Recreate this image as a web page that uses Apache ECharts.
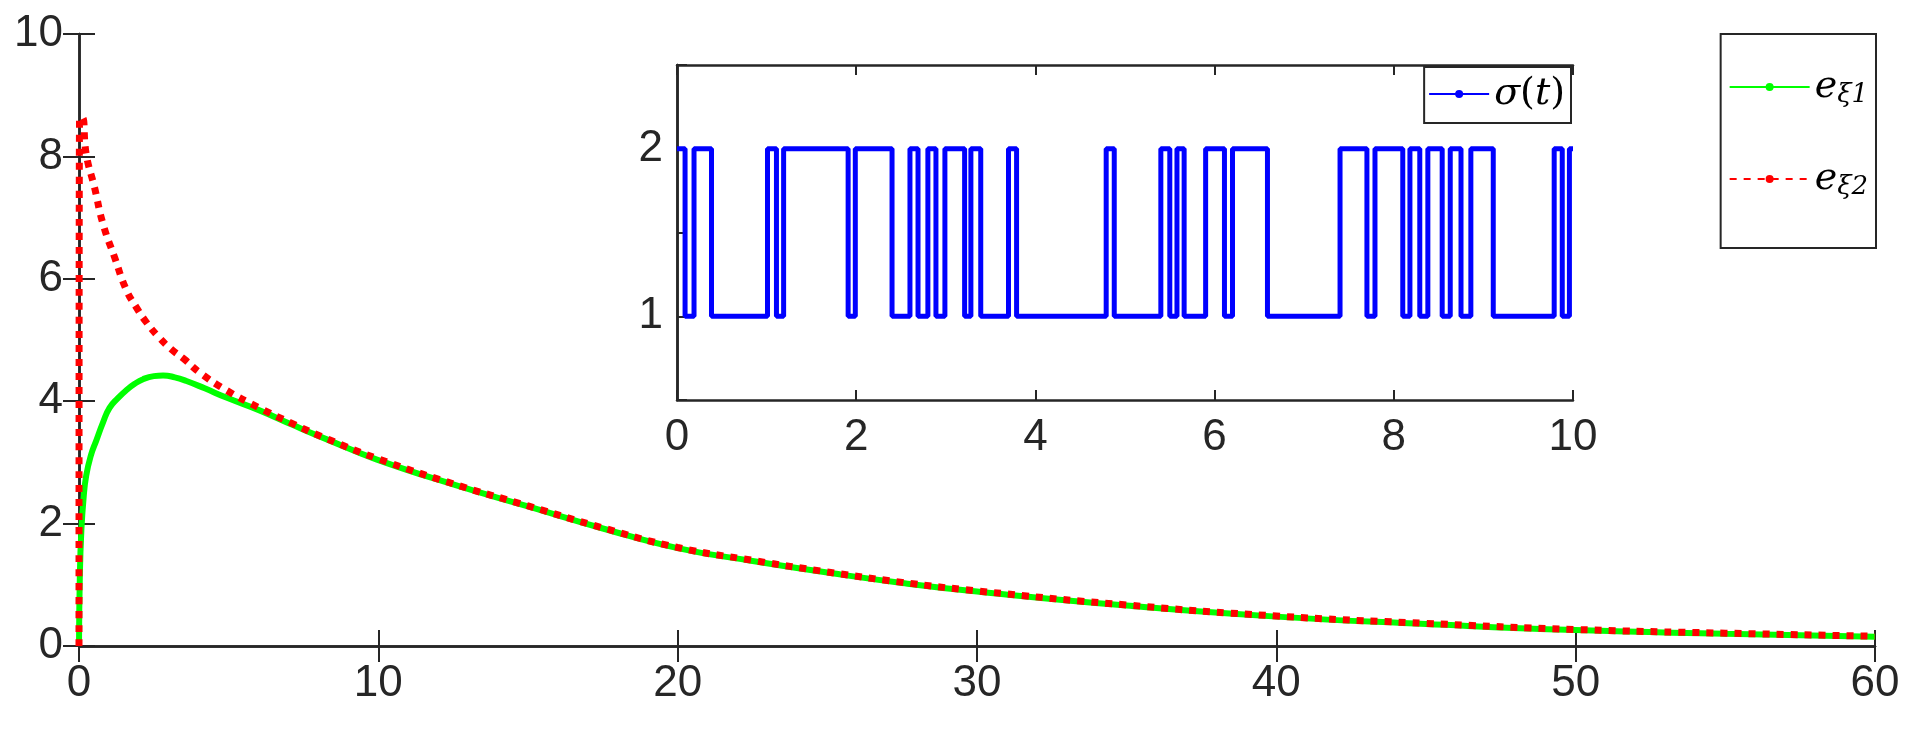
<!DOCTYPE html>
<html><head><meta charset="utf-8">
<script src="https://cdn.jsdelivr.net/npm/echarts@6/dist/echarts.min.js"></script>
<style>html,body{margin:0;padding:0;background:#fff}#c{width:1909px;height:730px}</style>
</head><body><div id="c"></div>
<script>
const e1T = [0,0.03,0.08,0.15,0.24,0.4,0.58,0.8,1.02,1.3,1.58,1.85,2.14,2.5,2.81,3.2,3.59,4.2,4.92,6.03,7.15,8.26,9.93,12.5,15,17.5,20,22.5,25,27.5,30,35,40,45,50,55,60];
const e1V = [0,1.2,1.90,2.40,2.78,3.12,3.36,3.65,3.89,4.05,4.18,4.28,4.36,4.41,4.42,4.39,4.33,4.21,4.06,3.85,3.61,3.38,3.05,2.64,2.28,1.92,1.60,1.39,1.20,1.03,0.89,0.66,0.48,0.36,0.26,0.20,0.15];
const e2T = [0,0.02,0.11,0.24,0.52,0.80,1.19,1.58,1.92,2.25,2.64,3.08,3.53,4.03,4.92,6.03,7.15,8.26,9.93,12.5,15,17.5,20,22.5,25,27.5,30,35,40,45,50,55,60];
const e2V = [0,8.63,8.63,8.04,7.49,6.90,6.35,5.82,5.53,5.29,5.06,4.85,4.68,4.47,4.18,3.89,3.63,3.39,3.07,2.65,2.29,1.93,1.61,1.40,1.21,1.04,0.90,0.67,0.49,0.37,0.27,0.21,0.16];
const switchT = [0.09,0.19,0.385,1.01,1.11,1.19,1.91,1.99,2.40,2.60,2.69,2.80,2.89,2.99,3.21,3.28,3.39,3.70,3.79,4.79,4.88,5.40,5.50,5.58,5.66,5.90,6.11,6.20,6.59,7.40,7.70,7.79,8.10,8.18,8.29,8.38,8.54,8.63,8.75,8.86,9.11,9.79,9.88,9.96];
const sigma0 = 2;

const z=(a,b)=>a.map((t,i)=>[t,b[i]]);
const sig=[[0,sigma0]]; let s=sigma0;
switchT.forEach(t=>{s=3-s;sig.push([t,s]);}); sig.push([10,s]);

const font='Liberation Sans', c='#262626', fs=44;
const tick=(l)=>({show:true,inside:true,length:l,lineStyle:{color:c,width:2}});
const axBase=(show,l)=>({axisLine:{show:true,lineStyle:{color:c,width:2.5}},axisTick:tick(l||16),axisLabel:{show:show,color:c,fontSize:fs,fontFamily:font,margin:16},splitLine:{show:false}});
const rich={i:{fontFamily:'DejaVu Serif',fontStyle:'italic',fontSize:38,color:'#000'},s:{fontFamily:'DejaVu Serif',fontStyle:'italic',fontSize:26,color:'#000',verticalAlign:'bottom',padding:[16,0,0,0]}};
const chart=echarts.init(document.getElementById('c'));
chart.setOption({
 animation:false,
 grid:[{left:79,top:34,width:1796,height:612},{left:677,top:65,width:896,height:335,backgroundColor:'#fff',show:true,borderWidth:0}],
 xAxis:[
  Object.assign(axBase(true),{type:'value',min:0,max:60,interval:10,gridIndex:0}),
  Object.assign(axBase(false),{type:'value',min:0,max:60,interval:10,gridIndex:0,position:'top'}),
  Object.assign(axBase(true,10),{type:'value',min:0,max:10,interval:2,gridIndex:1}),
  Object.assign(axBase(false,10),{type:'value',min:0,max:10,interval:2,gridIndex:1,position:'top'})],
 yAxis:[
  Object.assign(axBase(true),{type:'value',min:0,max:10,interval:2,gridIndex:0}),
  Object.assign(axBase(false),{type:'value',min:0,max:10,interval:2,gridIndex:0,position:'right'}),
  Object.assign(axBase(true,10),{type:'value',min:0.5,max:2.5,gridIndex:1,interval:0.5,axisLabel:{color:c,fontSize:fs,fontFamily:font,margin:14,formatter:v=>(v===1||v===2)?String(v):''},axisTick:{show:true,inside:true,length:10,lineStyle:{color:c,width:2},interval:(i,v)=>v===1||v===2}}),
  Object.assign(axBase(false,10),{type:'value',min:0.5,max:2.5,interval:0.5,gridIndex:1,position:'right',axisTick:{show:false}})],
 legend:[
  {data:['e1','e2'],orient:'vertical',right:33,top:34,padding:[34,8,48,8],itemGap:52,itemWidth:80,itemHeight:10,
   borderColor:c,borderWidth:2,backgroundColor:'#fff',
   formatter:n=>n==='e1'?'{i|e}{s|ξ1}':'{i|e}{s|ξ2}',textStyle:{rich:rich}},
  {data:['sigma'],right:338,top:67,padding:[8,6,10,4],itemWidth:60,itemHeight:10,borderColor:c,borderWidth:2,backgroundColor:'#fff',
   formatter:()=>'{i|σ}{p|(}{i|t}{p|)}',textStyle:{rich:{i:rich.i,p:{fontFamily:'DejaVu Serif',fontSize:38,color:'#000'}}}}],
 series:[
  {name:'e1',type:'line',xAxisIndex:0,yAxisIndex:0,data:z(e1T,e1V),smooth:true,symbol:'none',lineStyle:{color:'#00ff00',width:6},itemStyle:{color:'#00ff00'},z:2},
  {name:'e2',type:'line',xAxisIndex:0,yAxisIndex:0,data:z(e2T,e2V),smooth:true,symbol:'none',lineStyle:{color:'#ff0000',width:7,type:[7,7]},itemStyle:{color:'#ff0000'},z:3},
  {name:'sigma',type:'line',xAxisIndex:2,yAxisIndex:2,data:sig,step:'end',symbol:'none',lineStyle:{color:'#0000ff',width:5},itemStyle:{color:'#0000ff'},z:5}
 ]
});
</script></body></html>
